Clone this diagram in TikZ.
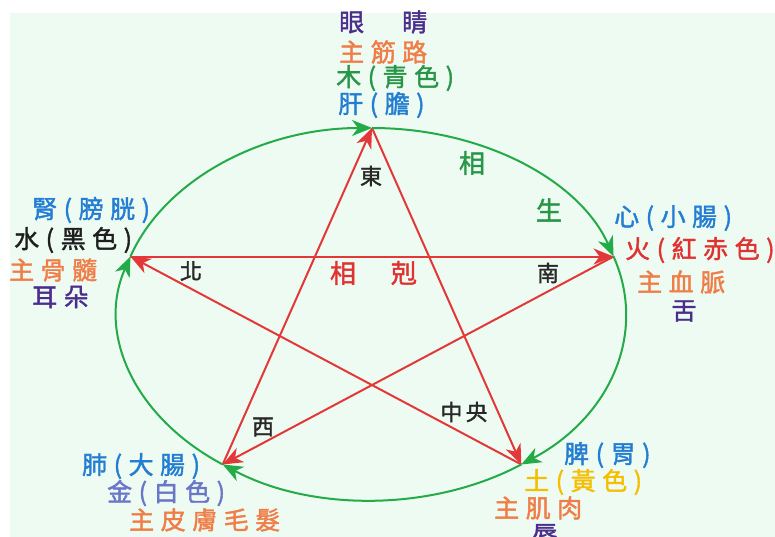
\documentclass[tikz,border=0pt]{standalone}
\usepackage{fontspec}
\newfontfamily\zh{Noto Sans CJK TC}[LetterSpace=26, FakeBold=1.6]
\newfontfamily\zhdir{Noto Sans CJK TC}[LetterSpace=15, FakeBold=1.6]
\usetikzlibrary{arrows.meta}
\definecolor{mint}{RGB}{237,251,243}
\definecolor{shenggreen}{RGB}{36,170,70}
\definecolor{kered}{RGB}{228,56,56}
\definecolor{zhblue}{RGB}{35,125,210}
\definecolor{zhgreen}{RGB}{40,150,70}
\definecolor{zhorange}{RGB}{240,125,70}
\definecolor{zhpurple}{RGB}{75,45,140}
\definecolor{zhred}{RGB}{225,50,50}
\definecolor{zhyellow}{RGB}{245,190,0}
\definecolor{zhlilac}{RGB}{106,118,200}
\definecolor{zhblack}{RGB}{30,30,30}
\definecolor{dirgray}{RGB}{40,40,40}
\begin{document}
\begin{tikzpicture}[x=1pt, y=-1pt,
    sheng/.style={draw=shenggreen, line width=2pt, -{Stealth[length=20pt,width=16pt,inset=6pt]}},
    ke/.style={draw=kered, line width=2pt, -{Stealth[length=20pt,width=16pt,inset=6pt]}},
    big/.style={font=\zh\fontsize{25}{25}\selectfont, inner sep=0pt},
    dir/.style={font=\zhdir\fontsize{22}{22}\selectfont, text=dirgray, inner sep=0pt}]
    \path[use as bounding box, clip] (0,0) rectangle (775,537);
    % Background
    \fill[mint] (10,13) rectangle (775,537);

    % Five points on the ellipse
    \coordinate (c) at (372,314);
    \path (c) ++(90:254pt and 186pt) coordinate (wood);
    \path (c) ++(18:254pt and 186pt) coordinate (fire);
    \path (c) ++(-54:254pt and 186pt) coordinate (earth);
    \path (c) ++(-126:254pt and 186pt) coordinate (metal);
    \path (c) ++(162:254pt and 186pt) coordinate (water);

    % Overcoming (star)
    \draw[ke] (wood) -- (earth);
    \draw[ke] (earth) -- (water);
    \draw[ke] (water) -- (fire);
    \draw[ke] (fire) -- (metal);
    \draw[ke] (metal) -- (wood);

    % Generating (ellipse)
    \draw[sheng] (wood) arc[start angle=90, end angle=18, x radius=254pt, y radius=186pt];
    \draw[sheng] (fire) arc[start angle=18, end angle=-54, x radius=254pt, y radius=186pt];
    \draw[sheng] (earth) arc[start angle=-54, end angle=-126, x radius=254pt, y radius=186pt];
    \draw[sheng] (metal) arc[start angle=-126, end angle=-198, x radius=254pt, y radius=186pt];
    \draw[sheng] (water) arc[start angle=162, end angle=90, x radius=254pt, y radius=186pt];

    % Inner labels
    \node[dir] (east) at (371,176) {東};
    \node[dir] (north) at (191,271) {北};
    \node[dir] (south) at (548,273) {南};
    \node[dir] (west) at (263,427) {西};
    \node[dir] (centre) at (464,412) {中央};
    \node[big, text=zhgreen, font=\zh\fontsize{26}{26}\selectfont] (xiang1) at (472,163) {相};
    \node[big, text=zhgreen, font=\zh\fontsize{26}{26}\selectfont] (sheng) at (549,210) {生};
    \node[big, text=zhred, font=\zh\fontsize{26}{26}\selectfont] (xiang2) at (343,273) {相};
    \node[big, text=zhred, font=\zh\fontsize{26}{26}\selectfont] (ke) at (404,273) {剋};

    % Wood
    \node[big, anchor=west, text=zhpurple] (mu4) at (339,22) {眼　睛};
    \node[big, anchor=west, text=zhorange] (mu3) at (339,52) {主筋路};
    \node[big, anchor=west, text=zhgreen] (mu2) at (336,78) {木(青色)};
    \node[big, anchor=west, text=zhblue] (mu1) at (338,105) {肝(膽)};

    % Water
    \node[big, anchor=west, text=zhblue] (shui1) at (32,210) {腎(膀胱)};
    \node[big, anchor=west, text=zhblack] (shui2) at (14,240) {水(黑色)};
    \node[big, anchor=west, text=zhorange] (shui3) at (9,270) {主骨髓};
    \node[big, anchor=west, text=zhpurple] (shui4) at (32,297) {耳朵};

    % Fire
    \node[big, anchor=west, text=zhblue] (huo1) at (614,218) {心(小腸)};
    \node[big, anchor=west, text=zhred] (huo2) at (625,250) {火(紅赤色)};
    \node[big, anchor=west, text=zhorange] (huo3) at (637,282) {主血脈};
    \node[big, text=zhpurple] (huo4) at (684,311) {舌};

    % Metal
    \node[big, anchor=west, text=zhblue] (jin1) at (82,466) {肺(大腸)};
    \node[big, anchor=west, text=zhlilac] (jin2) at (107,493) {金(白色)};
    \node[big, anchor=west, text=zhorange] (jin3) at (129,520) {主皮膚毛髮};

    % Earth
    \node[big, anchor=west, text=zhblue] (tu1) at (564,455) {脾(胃)};
    \node[big, anchor=west, text=zhyellow] (tu2) at (524,482) {土(黃色)};
    \node[big, anchor=west, text=zhorange] (tu3) at (494,508) {主肌肉};
    \node[big, text=zhpurple] (tu4) at (545,535) {唇};
\end{tikzpicture}
\end{document}
